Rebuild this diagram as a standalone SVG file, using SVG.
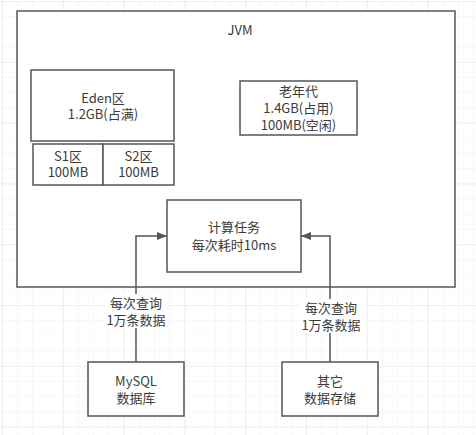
<svg xmlns="http://www.w3.org/2000/svg" width="476" height="435" viewBox="0 0 476 435">
  <defs>
    <pattern id="minor" x="2" y="1" width="15.2" height="15.2" patternUnits="userSpaceOnUse">
      <path d="M0 0 V15.2 M0 0 H15.2" fill="none" stroke="#f0f0f0" stroke-width="1"/>
    </pattern>
    <pattern id="major" x="2" y="1" width="60.8" height="60.8" patternUnits="userSpaceOnUse">
      <path d="M0 0 V60.8 M0 0 H60.8" fill="none" stroke="#e6e6e6" stroke-width="1"/>
    </pattern>
    <marker id="arrow" viewBox="0 0 10 10" refX="10" refY="5" markerWidth="10" markerHeight="10" markerUnits="userSpaceOnUse" orient="auto">
      <path d="M0 1 L10 5 L0 9 Z" fill="#555"/>
    </marker>
    <style>
      .box { fill: #fff; stroke: #555; stroke-width: 1.5; }
      .t { font-family: "Noto Sans CJK SC", "Liberation Sans", sans-serif; font-size: 13px; fill: #3a3a3a; text-anchor: middle; }
      .edge { fill: none; stroke: #555; stroke-width: 1.5; }
    </style>
  </defs>
  <rect width="476" height="435" fill="#fff"/>
  <rect width="476" height="435" fill="url(#minor)"/>
  <rect width="476" height="435" fill="url(#major)"/>

  <g id="jvm">
    <rect class="box" x="17" y="11" width="438" height="276"/>
    <text class="t" x="240" y="35">JVM</text>
  </g>
  <g id="eden">
    <rect class="box" x="31" y="70" width="143" height="71"/>
    <text class="t" x="103" y="103">Eden区</text>
    <text class="t" x="103" y="119">1.2GB(占满)</text>
  </g>
  <g id="s1">
    <rect class="box" x="33" y="144" width="70" height="41"/>
    <text class="t" x="68" y="161">S1区</text>
    <text class="t" x="68" y="177">100MB</text>
  </g>
  <g id="s2">
    <rect class="box" x="103" y="144" width="71" height="41"/>
    <text class="t" x="138.5" y="161">S2区</text>
    <text class="t" x="138.5" y="177">100MB</text>
  </g>
  <g id="old">
    <rect class="box" x="240" y="81" width="117" height="54"/>
    <text class="t" x="298.5" y="96">老年代</text>
    <text class="t" x="298.5" y="113">1.4GB(占用)</text>
    <text class="t" x="298.5" y="130">100MB(空闲)</text>
  </g>
  <g id="task">
    <rect class="box" x="167" y="200" width="134" height="72"/>
    <text class="t" x="234" y="232">计算任务</text>
    <text class="t" x="234" y="250">每次耗时10ms</text>
  </g>
  <g id="mysql">
    <rect class="box" x="88" y="362" width="96" height="54"/>
    <text class="t" x="136" y="386">MySQL</text>
    <text class="t" x="136" y="403">数据库</text>
  </g>
  <g id="other">
    <rect class="box" x="282" y="362" width="96" height="54"/>
    <text class="t" x="330" y="386">其它</text>
    <text class="t" x="330" y="403">数据存储</text>
  </g>

  <g id="connectors">
    <path class="edge" d="M136 362 V236 H167" marker-end="url(#arrow)"/>
    <path class="edge" d="M330 362 V236 H301" marker-end="url(#arrow)"/>
    <rect x="105" y="294" width="63" height="34" fill="#fff"/>
    <text class="t" x="136" y="308">每次查询</text>
    <text class="t" x="136" y="325">1万条数据</text>
    <rect x="299" y="299" width="65" height="34" fill="#fff"/>
    <text class="t" x="331" y="313">每次查询</text>
    <text class="t" x="331" y="330">1万条数据</text>
  </g>
</svg>
